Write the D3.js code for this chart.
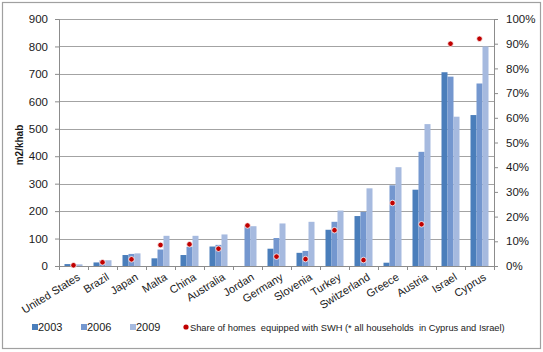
<!DOCTYPE html>
<html><head><meta charset="utf-8">
<script src="https://cdn.jsdelivr.net/npm/d3@7"></script>
<style>
body{margin:0;background:#fff;}
text{font-family:"Liberation Sans",Arial,sans-serif;fill:#1a1a1a;}
</style></head>
<body>
<svg id="c" width="543" height="352"></svg>
<script>
const countries = ["United States","Brazil","Japan","Malta","China","Australia","Jordan","Germany","Slovenia","Turkey","Switzerland","Greece","Austria","Israel","Cyprus"];
const v2003 = [7,13,40,28,40,71,null,63,48,132,182,12,278,706,550];
const v2006 = [7,21,44,60,70,77,146,102,55,161,197,294,416,690,665];
const v2009 = [6,21,46,110,110,115,145,155,161,202,283,360,517,544,800];
const share = [0.3,1.5,2.7,8.5,8.8,7,16.4,3.8,2.8,14.5,2.4,25.5,16.9,90,92];
const years = ["2003","2006","2009"];
const leftTicks = [0,100,200,300,400,500,600,700,800,900];
const rightTicks = [0,10,20,30,40,50,60,70,80,90,100];
const colors = ["#4a7ebb","#7497cf","#a6badf"];
const dotColor = "#c00000";
const legendShare = "Share of homes  equipped with SWH (* all households  in Cyprus and Israel)";

const svg = d3.select("#c");
const L=59, R=494, T=19, B=266;
svg.append("rect").attr("x",2.5).attr("y",2.5).attr("width",538).attr("height",346)
  .attr("fill","#fff").attr("stroke","#a0a0a0").attr("stroke-width",1.2);

const x = d3.scaleBand().domain(countries).range([L,R]).paddingInner(0).paddingOuter(0);
const y = d3.scaleLinear().domain([0,900]).range([B,T]);
const y2 = d3.scaleLinear().domain([0,100]).range([B,T]);
const bw = 6, gw = 18;

// gridlines
svg.append("g").selectAll("line").data(leftTicks.filter(d=>d>0)).join("line")
  .attr("x1",L).attr("x2",R).attr("y1",d=>Math.round(y(d))+0.5).attr("y2",d=>Math.round(y(d))+0.5)
  .attr("stroke","#a3a3a3").attr("stroke-width",1);

// left axis
const ga = svg.append("g").attr("transform",`translate(${L},0)`)
  .call(d3.axisLeft(y).tickValues(leftTicks).tickSize(4).tickPadding(7));
ga.select(".domain").attr("stroke","#8c8c8c");
ga.selectAll(".tick line").attr("stroke","#8c8c8c");
ga.selectAll("text").attr("font-size","11.5px").attr("font-family","Liberation Sans, Arial, sans-serif").attr("fill","#1a1a1a");

// right axis
const gr = svg.append("g").attr("transform",`translate(${R},0)`)
  .call(d3.axisRight(y2).tickValues(rightTicks).tickFormat(d=>d+"%").tickSize(4).tickPadding(8));
gr.select(".domain").attr("stroke","#8c8c8c");
gr.selectAll(".tick line").attr("stroke","#8c8c8c");
gr.selectAll("text").attr("font-size","11.5px").attr("font-family","Liberation Sans, Arial, sans-serif").attr("fill","#1a1a1a");

// bars
const series = [v2003,v2006,v2009];
series.forEach((vals,si)=>{
  svg.append("g").selectAll("rect").data(countries.map((c,i)=>({c,v:vals[i]})).filter(d=>d.v!=null)).join("rect")
    .attr("x",d=>x(d.c)+(x.bandwidth()-gw)/2+si*bw)
    .attr("y",d=>y(d.v)).attr("width",bw).attr("height",d=>B-y(d.v))
    .attr("fill",colors[si]);
});

// bottom axis
const gb = svg.append("g").attr("transform",`translate(0,${B})`)
  .call(d3.axisBottom(x).tickSize(0).tickFormat(""));
gb.select(".domain").attr("stroke","#8c8c8c");
svg.append("g").selectAll("line").data(d3.range(countries.length+1)).join("line")
  .attr("x1",i=>Math.round(L+i*x.bandwidth())+0.5).attr("x2",i=>Math.round(L+i*x.bandwidth())+0.5)
  .attr("y1",B).attr("y2",B+4).attr("stroke","#8c8c8c");

// x labels
svg.append("g").selectAll("text").data(countries).join("text")
  .attr("transform",d=>`translate(${x(d)+x.bandwidth()/2+3},${B+6}) rotate(-32)`)
  .attr("text-anchor","end").attr("dy","0.75em").attr("font-size","11px").text(d=>d);

// dots
svg.append("g").selectAll("circle").data(countries.map((c,i)=>({c,v:share[i]}))).join("circle")
  .attr("cx",d=>x(d.c)+x.bandwidth()/2).attr("cy",d=>y2(d.v)).attr("r",2.8)
  .attr("fill",dotColor).attr("stroke","#fff").attr("stroke-width",0.8);

// y title
svg.append("text").attr("transform","translate(23,145) rotate(-90)").attr("text-anchor","middle")
  .attr("font-size","10px").attr("font-weight","bold").text("m2/khab");

// legend
const ly = 327;
const lx = [32,81,130];
years.forEach((yr,i)=>{
  svg.append("rect").attr("x",lx[i]).attr("y",ly-3).attr("width",6).attr("height",6).attr("fill",colors[i]);
  svg.append("text").attr("x",lx[i]+6).attr("y",ly+4).attr("font-size","11px").text(yr);
});
svg.append("circle").attr("cx",186).attr("cy",ly).attr("r",2.6).attr("fill",dotColor);
svg.append("text").attr("x",190).attr("y",ly+3.5).attr("font-size","9.3px")
  .style("white-space","pre").text(legendShare);
</script>
</body></html>
